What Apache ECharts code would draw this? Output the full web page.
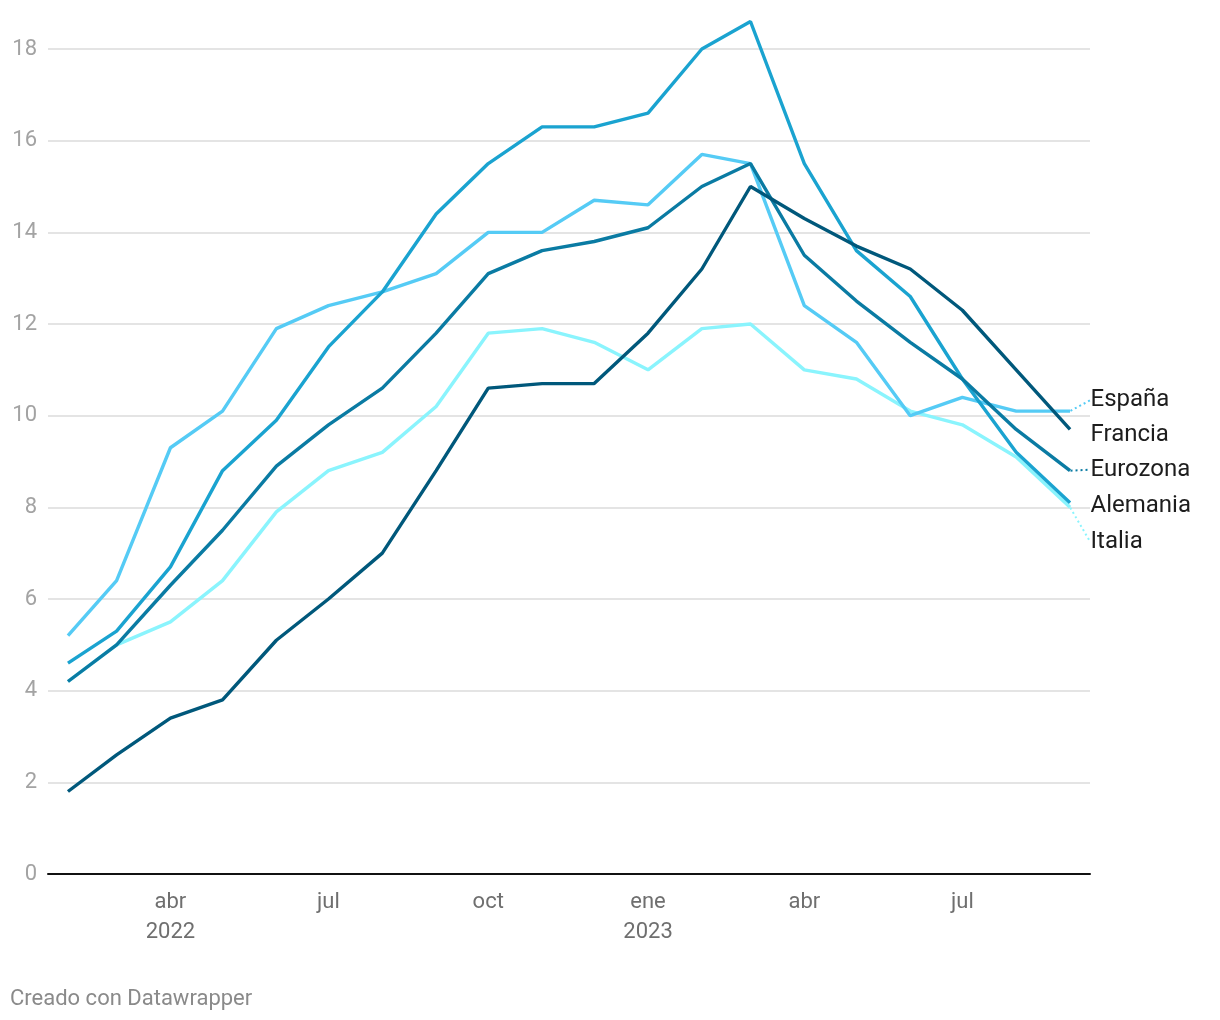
<!DOCTYPE html>
<html>
<head>
<meta charset="utf-8">
<script src="https://cdn.jsdelivr.net/npm/echarts@6/dist/echarts.min.js"></script>
<style>
html,body{margin:0;padding:0;background:#fff;}
#chart{width:1220px;height:1020px;}
</style>
</head>
<body>
<div id="chart"></div>
<script>
// Months (first day of each month)
const months = ['2022-02','2022-03','2022-04','2022-05','2022-06','2022-07','2022-08','2022-09','2022-10','2022-11','2022-12',
                '2023-01','2023-02','2023-03','2023-04','2023-05','2023-06','2023-07','2023-08','2023-09'];
const espana   = [5.2,6.4,9.3,10.1,11.9,12.4,12.7,13.1,14.0,14.0,14.7,14.6,15.7,15.5,12.4,11.6,10.0,10.4,10.1,10.1];
const francia  = [1.8,2.6,3.4,3.8,5.1,6.0,7.0,8.8,10.6,10.7,10.7,11.8,13.2,15.0,14.3,13.7,13.2,12.3,11.0,9.7];
const eurozona = [4.2,5.0,6.3,7.5,8.9,9.8,10.6,11.8,13.1,13.6,13.8,14.1,15.0,15.5,13.5,12.5,11.6,10.8,9.7,8.8];
const alemania = [4.6,5.3,6.7,8.8,9.9,11.5,12.7,14.4,15.5,16.3,16.3,16.6,18.0,18.6,15.5,13.6,12.6,10.8,9.2,8.1];
const italia   = [4.2,5.0,5.5,6.4,7.9,8.8,9.2,10.2,11.8,11.9,11.6,11.0,11.9,12.0,11.0,10.8,10.1,9.8,9.1,8.0];

const tickMonths = ['2022-04','2022-07','2022-10','2023-01','2023-04','2023-07'];
const tickLabels = ['abr\n2022','jul','oct','ene\n2023','abr','jul'];
const yTicks = [0,2,4,6,8,10,12,14,16,18];

function ts(m){ const p = m.split('-'); return Date.UTC(+p[0], +p[1]-1, 1); }
const DAY = 86400000;
const xs = months.map(ts);
const tickTs = tickMonths.map(ts);

const seriesDefs = [
  {name:'Italia',   data: italia,   color:'#8af4fd', dy: 35, guide: true},
  {name:'España',   data: espana,   color:'#55cbf5', dy: -11, guide: true},
  {name:'Alemania', data: alemania, color:'#1aa3d0', dy: 3, guide: false},
  {name:'Eurozona', data: eurozona, color:'#0a7ba3', dy: -1, guide: true},
  {name:'Francia',  data: francia,  color:'#00587b', dy: 6, guide: false}
];

const series = seriesDefs.map(s => ({
  name: s.name,
  type: 'line',
  clip: false,
  showSymbol: true,
  symbol: 'circle',
  symbolSize: 1,
  itemStyle: {color: 'rgba(0,0,0,0)', borderWidth: 0},
  lineStyle: {color: s.color, width: 3.4},
  emphasis: {disabled: true},
  silent: true,
  label: {show: false},
  labelLayout: {dy: s.dy},
  labelLine: {show: s.guide, lineStyle: {color: s.color, width: 2, type: [2, 3]}},
  data: s.data.map((v, i) => {
    const item = {value: [xs[i], v]};
    if (i === s.data.length - 1) {
      item.label = {
        show: true, position: 'right', distance: 20,
        formatter: s.name, color: '#1d1d1d', fontSize: 24,
        fontFamily: 'Roboto'
      };
    }
    return item;
  })
}));

const chart = echarts.init(document.getElementById('chart'), null, {renderer: 'canvas'});
chart.setOption({
  animation: false,
  backgroundColor: '#fff',
  textStyle: {fontFamily: 'Roboto'},
  grid: {left: 48, right: 130, top: 49, bottom: 146, containLabel: false},
  xAxis: {
    type: 'value',
    min: xs[0] - 11.5 * DAY,
    max: xs[xs.length - 1] + 11.5 * DAY,
    axisLine: {show: true, onZero: true, lineStyle: {color: '#111', width: 2}},
    axisTick: {show: false},
    splitLine: {show: false},
    axisLabel: {
      customValues: tickTs,
      color: '#6f6f6f', fontSize: 22, fontFamily: 'Roboto', lineHeight: 30, margin: 13,
      formatter: v => { const k = tickTs.indexOf(v); return k >= 0 ? tickLabels[k] : ''; }
    }
  },
  yAxis: {
    type: 'value', min: 0, max: 18, interval: 2,
    axisLine: {show: false}, axisTick: {show: false},
    splitLine: {show: true, lineStyle: {color: '#e4e4e4', width: 2}},
    axisLabel: {color: '#a3a3a3', fontSize: 22, fontFamily: 'Roboto', margin: 11,
      customValues: yTicks}
  },
  graphic: [{
    type: 'text', left: 10, top: 988,
    style: {text: 'Creado con Datawrapper', fill: '#8a8a8a', fontSize: 22, fontFamily: 'Roboto'}
  }],
  series: series
});
</script>
</body>
</html>
